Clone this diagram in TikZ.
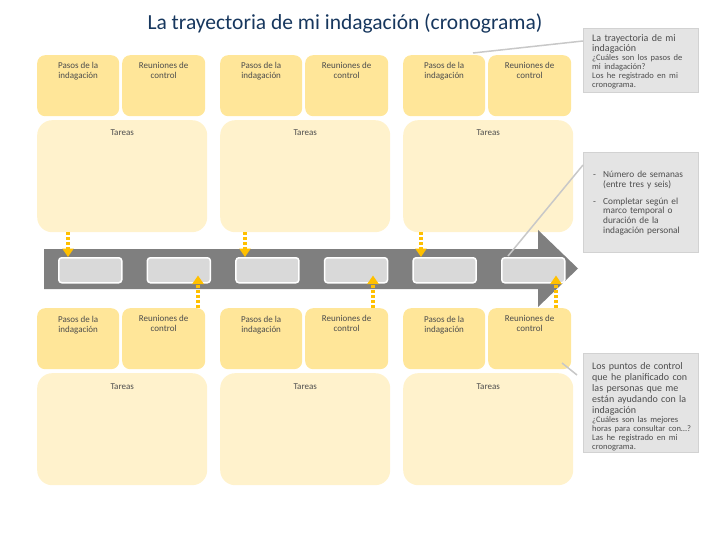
\documentclass[tikz,border=0pt]{standalone}
\usepackage{fontspec}
\setmainfont{Carlito}
\usetikzlibrary{arrows.meta,calc}
\definecolor{ybox}{HTML}{FFE699}
\definecolor{tbox}{HTML}{FFF2CC}
\definecolor{agray}{HTML}{7F7F7F}
\definecolor{lgray}{HTML}{D9D9D9}
\definecolor{cfill}{HTML}{E4E4E4}
\definecolor{cline}{HTML}{D2D2D2}
\definecolor{leadc}{HTML}{C8C8C8}
\definecolor{gold}{HTML}{FFC000}
\definecolor{titlec}{HTML}{17375E}
\definecolor{txtc}{HTML}{4D4D4D}
\tikzset{
  pbox/.style={fill=ybox, rounded corners=8pt, minimum width=82pt, minimum height=61pt, anchor=north west, inner sep=0pt},
  tarbox/.style={fill=tbox, rounded corners=15pt, minimum width=170pt, minimum height=112pt, anchor=north west, inner sep=0pt},
  btxt/.style={font=\fontsize{9}{10}\selectfont, text=txtc, align=center, inner sep=0pt, anchor=north},
  sbox/.style={fill=lgray, draw=white, line width=1.5pt, rounded corners=3pt, minimum width=63pt, minimum height=25pt, anchor=north west, inner sep=0pt},
  callout/.style={fill=cfill, draw=cline, line width=1.2pt, minimum width=115pt, anchor=north west, inner sep=0pt},
  ctext/.style={text width=100pt, align=left, anchor=north west, inner sep=0pt, text=txtc},
  leader/.style={draw=leadc, line width=1.5pt},
  darr/.style={draw=gold, line width=3.2pt, dash pattern=on 3pt off 2pt, -{Triangle[width=11pt,length=8.5pt,fill=gold]}},
}
\newcommand{\smallc}{\fontsize{8.5}{9}\selectfont}
\begin{document}
\begin{tikzpicture}[x=1pt,y=-1pt]
\useasboundingbox (0,0) rectangle (720,540);
\node[font=\fontsize{21.5}{24}\selectfont, text=titlec, inner sep=0pt, anchor=base] (title) at (345,30) {La trayectoria de mi indagación (cronograma)};

% top row
\foreach \g/\x in {1/37,2/220,3/403}{
  \node[pbox] (tp\g) at (\x,55) {};
  \node[pbox, minimum width=83pt] (tr\g) at (\x+85,55) {};
  \node[tarbox] (tt\g) at (\x,120) {};
  \node[btxt] (tpt\g) at ($(tp\g.north)+(0,7.5)$) {Pasos de la\\indagación};
  \node[btxt] (trt\g) at ($(tr\g.north)+(0,7.5)$) {Reuniones de\\control};
  \node[btxt] (ttt\g) at ($(tt\g.north)+(0,9.5)$) {Tareas};
}
% bottom row
\foreach \g/\x in {1/37,2/220,3/403}{
  \node[pbox] (bp\g) at (\x,308) {};
  \node[pbox, minimum width=83pt] (br\g) at (\x+85,308) {};
  \node[tarbox] (bt\g) at (\x,373) {};
  \node[btxt] (bpt\g) at ($(bp\g.north)+(0,8.5)$) {Pasos de la\\indagación};
  \node[btxt] (brt\g) at ($(br\g.north)+(0,7.5)$) {Reuniones de\\control};
  \node[btxt] (btt\g) at ($(bt\g.north)+(0,10.5)$) {Tareas};
}

% timeline arrow
\fill[agray] (44,249) -- (538,249) -- (538,230) -- (578,268.5) -- (538,307) -- (538,289) -- (44,289) -- cycle;
\foreach \i in {1,...,6}{
  \node[sbox] (s\i) at ({58+(\i-1)*88.6},257) {};
}

% dotted arrows down
\draw[darr] (68,0 |- tt1.south) -- (68,0 |- s1.north);
\draw[darr] (245,0 |- tt2.south) -- (245,0 |- s3.north);
\draw[darr] (421,0 |- tt3.south) -- (421,0 |- s5.north);
% dotted arrows up
\draw[darr] (198,0 |- br1.north) -- ($(198,0 |- s2.south)+(0,-8)$);
\draw[darr] (373,0 |- br2.north) -- ($(373,0 |- s4.south)+(0,-8)$);
\draw[darr] (556,0 |- br3.north) -- ($(556,0 |- s6.south)+(0,-8)$);

% callouts
\node[callout, minimum height=64pt] (c1) at (583,28) {};
\node[ctext] (c1t) at ($(c1.north west)+(9,6.5)$) {%
  {\fontsize{10}{10}\selectfont La trayectoria de mi\\indagación\par}
  {\smallc ¿Cuáles son los pasos de\\mi indagación?\\Los he registrado en mi\\cronograma.\par}};
\node[callout, minimum height=100pt] (c2) at (583,152) {};
\node[ctext, font=\fontsize{9.3}{9.6}\selectfont] (c2t) at ($(c2.north west)+(10,19)$) {%
  \makebox[10pt][l]{-}Número de semanas\\\hspace*{10pt}(entre tres y seis)\\[7.5pt]
  \makebox[10pt][l]{-}Completar según el\\\hspace*{10pt}marco temporal o\\\hspace*{10pt}duración de la\\\hspace*{10pt}indagación personal};
\node[callout, minimum height=99pt] (c3) at (583,353) {};
\node[ctext] (c3t) at ($(c3.north west)+(9,9)$) {%
  {\fontsize{10}{11}\selectfont Los puntos de control\\que he planificado con\\las personas que me\\están ayudando con la\\indagación\par}
  {\smallc ¿Cuáles son las mejores\\horas para consultar con…?\\Las he registrado en mi\\cronograma.\par}};

% leader lines
\coordinate (l1a) at (473,53);
\coordinate (l1b) at (583,41);
\draw[leader] (l1a) -- (l1b);
\coordinate (l2a) at (508,256);
\coordinate (l2b) at (583,165);
\draw[leader] (l2a) -- (l2b);
\coordinate (l3a) at (562,363);
\coordinate (l3b) at (577,375);
\draw[leader] (l3a) -- (l3b);
\end{tikzpicture}
\end{document}
